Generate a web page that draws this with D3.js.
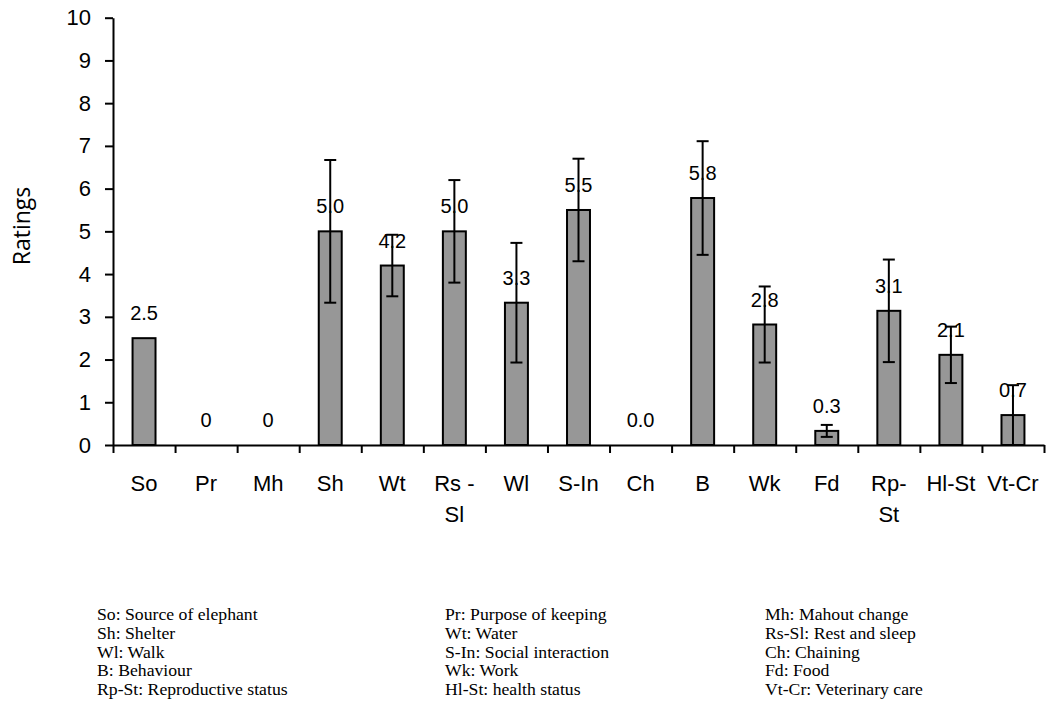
<!DOCTYPE html>
<html>
<head>
<meta charset="utf-8">
<script src="https://cdn.jsdelivr.net/npm/d3@7"></script>
<style>
  html, body { margin: 0; padding: 0; background: #fff; }
  svg { display: block; }
</style>
</head>
<body>
<svg id="chart" width="1046" height="727"></svg>
<script>
// categories, means, sd and printed labels
const categories = ["So", "Pr", "Mh", "Sh", "Wt", "Rs-Sl", "Wl", "S-In", "Ch", "B", "Wk", "Fd", "Rp-St", "Hl-St", "Vt-Cr"];
const tickLines = [["So"], ["Pr"], ["Mh"], ["Sh"], ["Wt"], ["Rs -", "Sl"], ["Wl"], ["S-In"], ["Ch"], ["B"], ["Wk"], ["Fd"], ["Rp-", "St"], ["Hl-St"], ["Vt-Cr"]];
const means = [2.5, 0, 0, 5.0, 4.2, 5.0, 3.33, 5.5, 0, 5.78, 2.82, 0.33, 3.14, 2.11, 0.7];
const errs = [null, null, null, 1.67, 0.72, 1.2, 1.4, 1.2, null, 1.33, 0.89, 0.14, 1.2, 0.66, 0.7];
const valueLabels = ["2.5", "0", "0", "5.0", "4.2", "5.0", "3.3", "5.5", "0.0", "5.8", "2.8", "0.3", "3.1", "2.1", "0.7"];
const yTicks = [0, 1, 2, 3, 4, 5, 6, 7, 8, 9, 10];

const legendCols = [
  ["So: Source of elephant", "Sh: Shelter", "Wl: Walk", "B: Behaviour", "Rp-St: Reproductive status"],
  ["Pr: Purpose of keeping", "Wt: Water", "S-In: Social interaction", "Wk: Work", "Hl-St: health status"],
  ["Mh: Mahout change", "Rs-Sl: Rest and sleep", "Ch: Chaining", "Fd: Food", "Vt-Cr: Veterinary care"]
];

const svg = d3.select("#chart");
const plotL = 113, plotR = 1044, plotT = 17.7, plotB = 445;
const sans = "'Liberation Sans', Arial, sans-serif";

const x = d3.scaleBand()
    .domain(categories)
    .range([plotL, plotR])
    .paddingInner(0.63)
    .paddingOuter(0.315);

const slots = d3.scaleLinear().domain([0, categories.length]).range([plotL, plotR]);

const y = d3.scaleLinear().domain([0, 10]).range([plotB, plotT]);

// bars
svg.append("g")
  .selectAll("rect")
  .data(categories.filter((c, i) => means[i] > 0))
  .join("rect")
    .attr("x", d => x(d))
    .attr("width", x.bandwidth())
    .attr("y", d => y(means[categories.indexOf(d)]))
    .attr("height", d => y(0) - y(means[categories.indexOf(d)]))
    .attr("fill", "#979797")
    .attr("stroke", "#000")
    .attr("stroke-width", 2);

// error bars
const eb = svg.append("g").attr("stroke", "#000").attr("stroke-width", 2);
categories.forEach((c, i) => {
  if (errs[i] == null) return;
  const cx = x(c) + x.bandwidth() / 2;
  const hi = y(means[i] + errs[i]), lo = y(Math.max(0, means[i] - errs[i]));
  eb.append("line").attr("x1", cx).attr("x2", cx).attr("y1", hi).attr("y2", lo);
  eb.append("line").attr("x1", cx - 6).attr("x2", cx + 6).attr("y1", hi).attr("y2", hi);
  eb.append("line").attr("x1", cx - 6).attr("x2", cx + 6).attr("y1", lo).attr("y2", lo);
});

// value labels
svg.append("g")
  .selectAll("text")
  .data(categories)
  .join("text")
    .attr("x", d => x(d) + x.bandwidth() / 2)
    .attr("y", (d, i) => y(means[i]) - 18)
    .attr("text-anchor", "middle")
    .attr("font-family", sans)
    .attr("font-size", 20)
    .text((d, i) => valueLabels[i]);

// y axis
const yAxis = svg.append("g")
  .attr("transform", `translate(${plotL},0)`)
  .call(d3.axisLeft(y).tickValues(yTicks).tickSize(8).tickSizeOuter(0).tickPadding(14));
yAxis.select(".domain").attr("stroke-width", 2);
yAxis.selectAll(".tick line").attr("stroke-width", 2);
yAxis.selectAll(".tick text").attr("font-family", sans).attr("font-size", 22).attr("fill", "#000");

// x axis: boundary ticks
const xAxis = svg.append("g")
  .attr("transform", `translate(0,${plotB})`)
  .call(d3.axisBottom(slots).tickValues(d3.range(categories.length + 1)).tickSize(8).tickSizeOuter(0).tickFormat(""));
xAxis.select(".domain").attr("stroke-width", 2);
xAxis.selectAll(".tick line").attr("stroke-width", 2);

// category labels
const catG = svg.append("g").attr("font-family", sans).attr("font-size", 22);
categories.forEach((c, i) => {
  const t = catG.append("text")
    .attr("x", x(c) + x.bandwidth() / 2)
    .attr("y", 491)
    .attr("text-anchor", "middle");
  tickLines[i].forEach((ln, j) => {
    t.append("tspan").attr("x", x(c) + x.bandwidth() / 2).attr("dy", j === 0 ? 0 : 31).text(ln);
  });
});

// y title
svg.append("text")
  .attr("transform", "translate(30,226) rotate(-90)")
  .attr("text-anchor", "middle")
  .attr("font-family", "'Open Sans', sans-serif")
  .attr("font-size", 23)
  .text("Ratings");

// key below chart
const colX = [97, 445, 765];
legendCols.forEach((col, ci) => {
  col.forEach((txt, ri) => {
    svg.append("text")
      .attr("x", colX[ci])
      .attr("y", 620 + ri * 18.8)
      .attr("font-family", "'Liberation Serif', 'Times New Roman', serif")
      .attr("font-size", 17.7)
      .text(txt);
  });
});
</script>
</body>
</html>
